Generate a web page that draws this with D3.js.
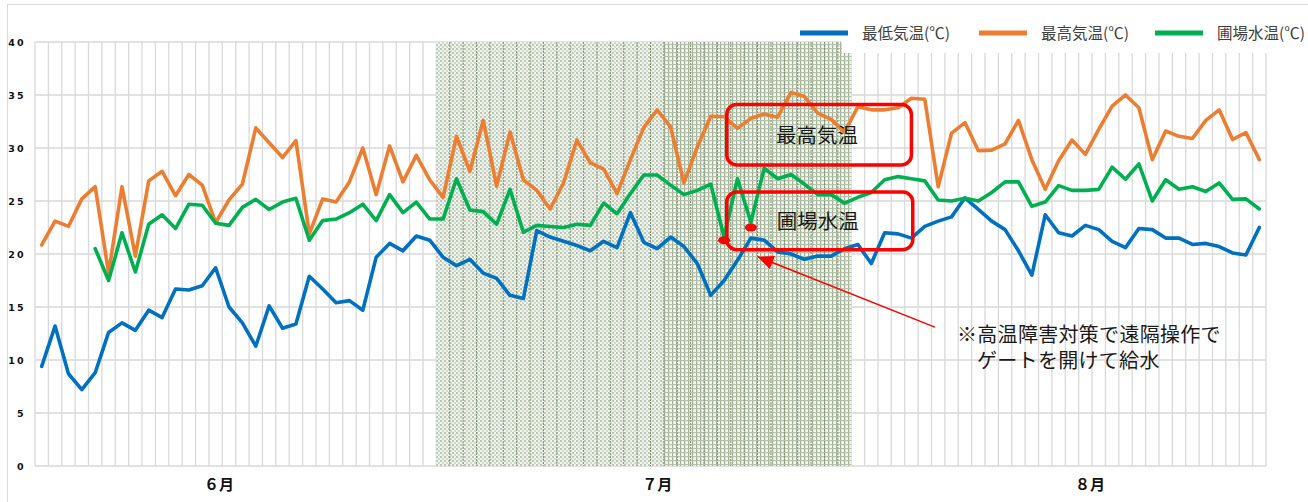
<!DOCTYPE html>
<html><head><meta charset="utf-8">
<script src="https://cdn.jsdelivr.net/npm/d3@7"></script>
<style>
html,body{margin:0;padding:0;background:#fff;}
svg{display:block;}
</style></head>
<body>
<svg id="chart" width="1308" height="502"></svg>
<script>
// ---------------- DATA ----------------
const seriesNames = ["最低気温(℃)", "最高気温(℃)", "圃場水温(℃)"];
const minTemp = [9.4,13.2,8.7,7.2,8.8,12.6,13.5,12.8,14.7,14.0,
  16.7,16.6,17.0,18.7,15.0,13.5,11.3,15.1,13.0,13.4,
  17.9,16.7,15.4,15.6,14.7,19.7,21.0,20.3,21.7,21.3,
  19.7,18.9,19.5,18.2,17.7,16.1,15.8,22.2,21.6,21.2,
  20.8,20.3,21.2,20.6,23.9,21.1,20.5,21.6,20.7,19.1,
  16.1,17.5,19.4,21.5,21.3,20.2,20.0,19.5,19.8,19.8,
  20.5,20.9,19.1,22.0,21.9,21.5,22.6,23.1,23.5,25.3,
  24.2,23.1,22.3,20.3,18.0,23.7,22.0,21.7,22.7,22.3,
  21.2,20.6,22.4,22.3,21.5,21.5,20.9,21.0,20.7,20.1,
  19.9,22.5];
const maxTemp = [20.85,23.1,22.6,25.2,26.35,18.2,26.35,19.8,26.9,27.8,
  25.5,27.5,26.5,22.95,25.1,26.6,31.9,30.5,29.1,30.7,
  21.9,25.2,24.9,26.8,30.0,25.6,30.2,26.8,29.3,27.0,
  25.35,31.1,27.8,32.6,26.4,31.5,27.0,26.0,24.25,26.7,
  30.75,28.6,28.0,25.7,28.9,31.95,33.6,32.0,26.7,30.1,
  33.0,32.95,31.85,32.8,33.2,32.9,35.25,34.85,33.3,32.7,
  31.5,33.9,33.6,33.6,33.8,34.7,34.6,26.35,31.4,32.4,
  29.75,29.8,30.4,32.6,28.9,26.1,28.8,30.75,29.4,31.75,
  33.96,35.0,33.8,28.9,31.6,31.1,30.9,32.6,33.6,30.8,
  31.45,28.9];
const waterTemp = [null,null,null,null,20.5,17.5,22.0,18.3,22.8,23.7,
  22.4,24.7,24.6,22.9,22.7,24.4,25.15,24.2,24.9,25.25,
  21.3,23.15,23.3,23.9,24.7,23.15,25.6,23.9,24.9,23.3,
  23.3,27.1,24.15,24.0,22.8,26.1,22.05,22.7,22.6,22.5,
  22.8,22.7,24.8,23.8,25.7,27.45,27.45,26.5,25.6,26.0,
  26.6,21.6,27.1,23.0,28.1,27.1,27.5,26.6,25.6,25.6,
  24.8,25.35,25.8,27.0,27.3,27.1,26.9,25.1,25.0,25.25,
  25.0,25.8,26.8,26.8,24.5,24.9,26.45,26.0,26.0,26.1,
  28.2,27.05,28.5,25.0,27.0,26.1,26.35,25.9,26.7,25.15,
  25.2,24.25];
const yTicks = [0,5,10,15,20,25,30,35,40];
const monthLabels = ["６月","７月","８月"];
const monthAt = [13.75, 46.5, 78.85];          // category position of month labels
const shadeSpans = [[30,47],[47,61]];           // shaded periods (category index)
const markerIdx = [51, 53];                     // red dots
const markerVal = [21.3, 22.5];
const boxLabels = ["最高気温", "圃場水温"];
const boxSpans = [[51.7,65.5,34.1,28.4],[51.7,65.6,25.85,20.4]]; // x0,x1,yTop,yBottom
const noteLines = ["※高温障害対策で遠隔操作で", "ゲートを開けて給水"];
const arrowFrom = [67.25, 13.1], arrowTo = [54.0, 19.75];

// ---------------- SETUP ----------------
const nCat = minTemp.length;
const svg = d3.select("#chart");
const x = d3.scaleLinear().domain([0, nCat]).range([35, 1266]);
const y = d3.scaleLinear().domain([0, 40]).range([466, 42]);
const colors = ["#0070c0", "#ed7d31", "#00b050"];
const jp = "'Noto Sans CJK JP','Noto Sans',sans-serif";
const jpTight = "'Liberation Sans','Noto Sans CJK JP',sans-serif";

svg.append("rect").attr("width",1308).attr("height",502).attr("fill","#fff");
svg.append("rect").attr("x",7.5).attr("y",4.5).attr("width",1320).attr("height",520)
  .attr("fill","#fff").attr("stroke","#d9d9d9").attr("stroke-width",1);

const defs = svg.append("defs");
const pA = defs.append("pattern").attr("id","pA").attr("width",4).attr("height",4).attr("patternUnits","userSpaceOnUse");
pA.append("rect").attr("width",4).attr("height",4).attr("fill","#f0f3ee");
pA.append("rect").attr("width",2).attr("height",2).attr("fill","#bac8b2");
pA.append("rect").attr("x",2).attr("y",2).attr("width",2).attr("height",2).attr("fill","#d0dacb");
const pB = defs.append("pattern").attr("id","pB").attr("width",4).attr("height",4).attr("patternUnits","userSpaceOnUse");
pB.append("rect").attr("width",4).attr("height",4).attr("fill","#f4f6f2");
pB.append("rect").attr("width",1.2).attr("height",4).attr("fill","#9fb095");
pB.append("rect").attr("width",4).attr("height",1.2).attr("fill","#b5c3ad");

// grid
const grid = svg.append("g");
grid.selectAll("line.h").data(yTicks).join("line")
  .attr("x1", x(0)).attr("x2", x(nCat))
  .attr("y1", d=>y(d)).attr("y2", d=>y(d))
  .attr("stroke","#d9d9d9").attr("stroke-width",1.5);
grid.selectAll("line.v").data(d3.range(nCat+1)).join("line")
  .attr("x1", d=>x(d)).attr("x2", d=>x(d))
  .attr("y1", y(40)).attr("y2", y(0))
  .attr("stroke","#d9d9d9").attr("stroke-width",1.3);

// shading
svg.append("g").selectAll("rect").data(shadeSpans).join("rect")
  .attr("x", d=>x(d[0])).attr("width", d=>x(d[1])-x(d[0]))
  .attr("y", y(40)).attr("height", y(0)-y(40))
  .attr("fill", (d,i)=> i===0 ? "url(#pA)" : "url(#pB)");
svg.append("g").selectAll("line").data(d3.range(shadeSpans[0][0]+1, shadeSpans[1][1])).join("line")
  .attr("x1", d=>x(d)).attr("x2", d=>x(d))
  .attr("y1", y(40)).attr("y2", y(0))
  .attr("stroke","#7d9272").attr("stroke-width",1).attr("stroke-dasharray","2,1");

// legend background (covers plot top-right)
svg.append("rect").attr("x",842).attr("y",8).attr("width",470).attr("height",45).attr("fill","#fff");

// y tick labels
svg.append("g").selectAll("text").data(yTicks).join("text")
  .attr("x", 26).attr("y", d=>y(d)+3.5)
  .attr("text-anchor","end")
  .attr("font-family","'DejaVu Sans',sans-serif").attr("font-weight","bold")
  .attr("font-size",9.5).attr("letter-spacing","2.3px").attr("fill","#111")
  .text(d=>d);

// month labels
svg.append("g").selectAll("text").data(monthLabels).join("text")
  .attr("x",(d,i)=>x(monthAt[i])).attr("y",490)
  .attr("text-anchor","middle").attr("font-family",jp).attr("font-weight","bold")
  .attr("font-size",15).attr("fill","#111").text(d=>d);

// lines
const series = [minTemp, maxTemp, waterTemp];
const lineGen = d3.line().defined(d=>d!=null).x((d,i)=>x(i+0.5)).y(d=>y(d));
svg.append("g").selectAll("path").data(series).join("path")
  .attr("d", d=>lineGen(d))
  .attr("fill","none").attr("stroke",(d,i)=>colors[i])
  .attr("stroke-width",3.6).attr("stroke-linejoin","round").attr("stroke-linecap","round");

// legend
const legX = [800, 979, 1155];
const lg = svg.append("g");
seriesNames.forEach((n,i)=>{
  lg.append("line").attr("x1",legX[i]).attr("x2",legX[i]+48).attr("y1",33).attr("y2",33)
    .attr("stroke",colors[i]).attr("stroke-width",5);
  lg.append("text").attr("x",legX[i]+62).attr("y",39).attr("font-family",jp)
    .attr("font-size",15.5).attr("fill","#404040").text(n);
});

// annotation boxes
const ann = svg.append("g");
ann.selectAll("rect").data(boxSpans).join("rect")
  .attr("x",d=>x(d[0])).attr("y",d=>y(d[2]))
  .attr("width",d=>x(d[1])-x(d[0])).attr("height",d=>y(d[3])-y(d[2]))
  .attr("rx",10).attr("fill","none").attr("stroke","#ff0000").attr("stroke-width",3.5);
ann.selectAll("text.box").data(boxLabels).join("text")
  .attr("x",(d,i)=>(x(boxSpans[i][0])+x(boxSpans[i][1]))/2 - 2)
  .attr("y",(d,i)=>(y(boxSpans[i][2])+y(boxSpans[i][3]))/2 + 8)
  .attr("text-anchor","middle").attr("font-family",jp).attr("font-size",20.5)
  .attr("fill","#1a1a1a").text(d=>d);

// red markers
ann.selectAll("ellipse").data(markerIdx).join("ellipse")
  .attr("cx",d=>x(d+0.5)).attr("cy",(d,i)=>y(markerVal[i]))
  .attr("rx",6).attr("ry",4).attr("fill","#ff0000");

// arrow
defs.append("marker").attr("id","ah").attr("markerUnits","userSpaceOnUse")
  .attr("markerWidth",18).attr("markerHeight",14).attr("refX",16).attr("refY",7)
  .attr("orient","auto")
  .append("path").attr("d","M0,0 L16,7 L0,14 Z").attr("fill","#ff0000");
ann.append("line")
  .attr("x1",x(arrowFrom[0])).attr("y1",y(arrowFrom[1]))
  .attr("x2",x(arrowTo[0])).attr("y2",y(arrowTo[1]))
  .attr("stroke","#ff0000").attr("stroke-width",1.5).attr("marker-end","url(#ah)");

// note text
const noteX = [957, 977];
ann.selectAll("text.note").data(noteLines).join("text")
  .attr("x",(d,i)=>noteX[i]).attr("y",(d,i)=>342 + i*26)
  .attr("font-family",jpTight).attr("font-size",20).attr("letter-spacing","0.3px")
  .attr("fill","#1a1a1a").text(d=>d);
</script>
</body></html>
